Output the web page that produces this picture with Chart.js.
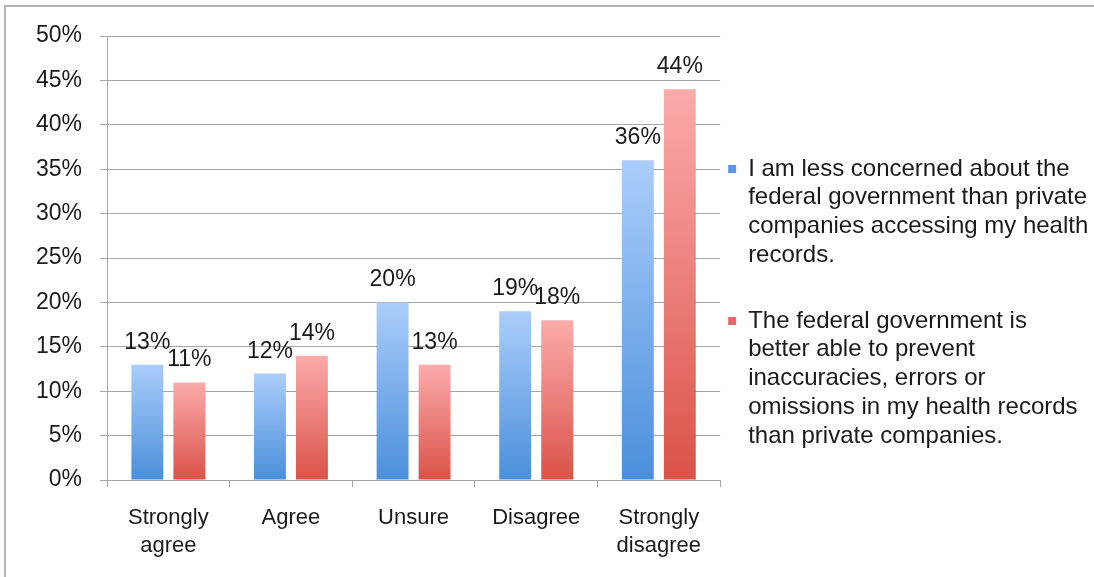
<!DOCTYPE html>
<html>
<head>
<meta charset="utf-8">
<script src="https://cdn.jsdelivr.net/npm/chart.js@4/dist/chart.umd.min.js"></script>
<style>
  html, body { margin: 0; padding: 0; background: #fff; }
  #frame {
    position: absolute; left: 4px; top: 5px; width: 1090px; height: 572px;
    border-top: 2px solid #b3b3b3; border-left: 2px solid #b3b3b3;
  }
  #wrap { position: absolute; left: 0; top: 0; width: 1094px; height: 577px; }
</style>
</head>
<body>
<div id="frame"></div>
<div id="wrap"><canvas id="barChart"></canvas></div>
<script>
// categories and values (percent)
const categories = [['Strongly', 'agree'], 'Agree', 'Unsure', 'Disagree', ['Strongly', 'disagree']];
const lessConcerned = [13, 12, 20, 19, 36];
const betterAble = [11, 14, 13, 18, 44];
const seriesNames = [
  ['I am less concerned about the', 'federal government than private', 'companies accessing my health', 'records.', ''],
  ['The federal government is', 'better able to prevent', 'inaccuracies, errors or', 'omissions in my health records', 'than private companies.']
];
const yTicks = [0, 5, 10, 15, 20, 25, 30, 35, 40, 45, 50];

const FONT = '"Liberation Sans", Arial, Helvetica, sans-serif';
const GRID = '#a6a6a6';

// vertical gradient for each bar, light at the top
function barGradient(top, bottom) {
  return function(context) {
    const chart = context.chart;
    const y = chart.scales.y;
    if (!y || context.type !== 'data') return bottom;
    const y0 = y.getPixelForValue(context.raw);
    const y1 = y.getPixelForValue(0);
    if (!isFinite(y0) || !isFinite(y1) || y0 === y1) return bottom;
    const g = chart.ctx.createLinearGradient(0, y0, 0, y1);
    g.addColorStop(0, top);
    g.addColorStop(1, bottom);
    return g;
  };
}

// values above bars
const valueLabels = {
  id: 'valueLabels',
  afterDatasetsDraw(chart) {
    const ctx = chart.ctx;
    ctx.save();
    ctx.font = '23px ' + FONT;
    ctx.fillStyle = '#1a1a1a';
    ctx.textAlign = 'center';
    ctx.textBaseline = 'alphabetic';
    chart.data.datasets.forEach((ds, i) => {
      chart.getDatasetMeta(i).data.forEach((bar, j) => {
        ctx.fillText(ds.data[j] + '%', bar.x, bar.y - 16);
      });
    });
    ctx.restore();
  }
};

const legendColors = ['#5b9ae0', '#e26a66'];

const ctx = document.getElementById('barChart').getContext('2d');
new Chart(ctx, {
  type: 'bar',
  data: {
    labels: categories,
    datasets: [
      {
        label: seriesNames[0],
        data: lessConcerned,
        backgroundColor: barGradient('#aacdfb', '#4a8fdb'),
        barPercentage: 0.76,
        categoryPercentage: 0.685
      },
      {
        label: seriesNames[1],
        data: betterAble,
        backgroundColor: barGradient('#fbabab', '#db5248'),
        barPercentage: 0.76,
        categoryPercentage: 0.685
      }
    ]
  },
  options: {
    responsive: true,
    maintainAspectRatio: false,
    animation: false,
    layout: { padding: { left: 18, top: 36, right: -3, bottom: 0 } },
    scales: {
      x: {
        grid: { offset: true, drawOnChartArea: false, drawTicks: true, tickLength: 7, color: GRID },
        border: { color: GRID },
        ticks: { color: '#1a1a1a', padding: 17, font: { family: FONT, size: 22, lineHeight: 1.27 } }
      },
      y: {
        min: 0,
        max: 50,
        afterBuildTicks(scale) { scale.ticks = yTicks.map(v => ({ value: v })); },
        grid: { color: GRID, tickLength: 7 },
        border: { color: GRID },
        ticks: {
          color: '#1a1a1a',
          padding: 18,
          font: { family: FONT, size: 23 },
          callback: v => v + '%'
        }
      }
    },
    plugins: {
      tooltip: { enabled: false },
      legend: {
        position: 'right',
        align: 'start',
        maxWidth: 380,
        title: { display: true, text: '', font: { size: 10 }, padding: { top: 0, bottom: 101 } },
        labels: {
          color: '#1a1a1a',
          boxWidth: 8,
          boxHeight: 8,
          padding: 8,
          font: { family: FONT, size: 24 },
          generateLabels(chart) {
            const items = Chart.defaults.plugins.legend.labels.generateLabels(chart);
            items.forEach((it, i) => {
              it.fillStyle = legendColors[i];
              it.strokeStyle = legendColors[i];
              it.lineWidth = 0;
            });
            return items;
          }
        }
      }
    }
  },
  plugins: [valueLabels]
});
</script>
</body>
</html>
